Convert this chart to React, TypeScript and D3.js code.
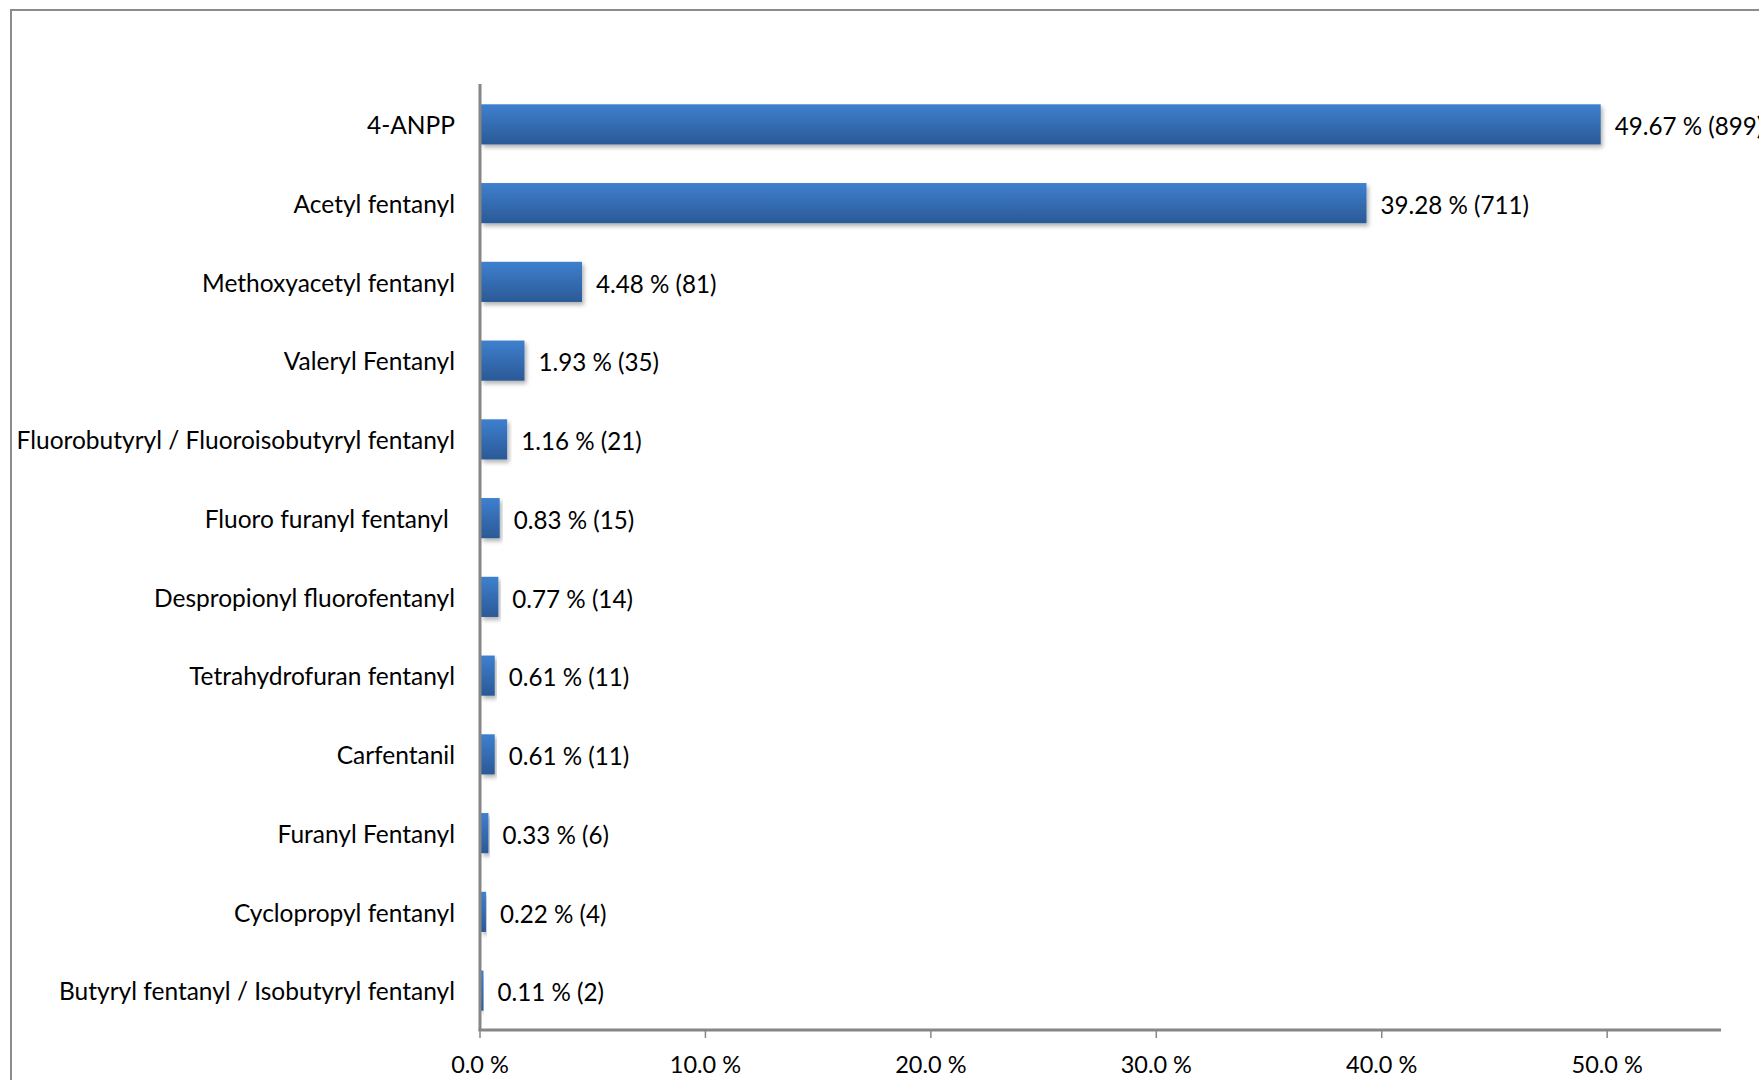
import { useEffect, useRef } from 'react';
import * as d3 from 'd3';

const categories = [
  '4-ANPP',
  'Acetyl fentanyl',
  'Methoxyacetyl fentanyl',
  'Valeryl Fentanyl',
  'Fluorobutyryl / Fluoroisobutyryl fentanyl',
  'Fluoro furanyl fentanyl ',
  'Despropionyl fluorofentanyl',
  'Tetrahydrofuran fentanyl',
  'Carfentanil',
  'Furanyl Fentanyl',
  'Cyclopropyl fentanyl',
  'Butyryl fentanyl / Isobutyryl fentanyl',
];
const percents = [49.67, 39.28, 4.48, 1.93, 1.16, 0.83, 0.77, 0.61, 0.61, 0.33, 0.22, 0.11];
const counts = [899, 711, 81, 35, 21, 15, 14, 11, 11, 6, 4, 2];
const xTicks = [0, 10, 20, 30, 40, 50];

const FONT = 'Lato, "Open Sans", sans-serif';

export default function App() {
  const ref = useRef<SVGSVGElement | null>(null);

  useEffect(() => {
    const width = 1759;
    const height = 1080;
    const svg = d3.select(ref.current);
    svg.selectAll('*').remove();

    const defs = svg.append('defs');
    const grad = defs
      .append('linearGradient')
      .attr('id', 'barGrad')
      .attr('x1', 0)
      .attr('y1', 0)
      .attr('x2', 0)
      .attr('y2', 1);
    grad.append('stop').attr('offset', '0%').attr('stop-color', '#3e80cf');
    grad.append('stop').attr('offset', '100%').attr('stop-color', '#2b5996');

    const shadow = defs
      .append('filter')
      .attr('id', 'barShadow')
      .attr('x', '-5%')
      .attr('y', '-20%')
      .attr('width', '120%')
      .attr('height', '160%');
    shadow
      .append('feDropShadow')
      .attr('dx', 2)
      .attr('dy', 3)
      .attr('stdDeviation', 2)
      .attr('flood-color', '#000')
      .attr('flood-opacity', 0.3);

    svg
      .append('rect')
      .attr('width', width)
      .attr('height', height)
      .attr('fill', '#fff');

    // outer frame
    svg
      .append('rect')
      .attr('x', 11)
      .attr('y', 10)
      .attr('width', width + 50)
      .attr('height', height + 50)
      .attr('fill', 'none')
      .attr('stroke', '#8c8c8c')
      .attr('stroke-width', 2);

    const x = d3.scaleLinear().domain([0, 55.05]).range([480, 1721]);
    const y = d3
      .scaleBand()
      .domain(categories)
      .range([85, 1030])
      .paddingInner(0.49)
      .paddingOuter(0.245);

    const g = svg.append('g');

    // bars
    g.selectAll('rect.bar')
      .data(percents)
      .enter()
      .append('rect')
      .attr('class', 'bar')
      .attr('x', x(0) + 1)
      .attr('y', (d, i) => y(categories[i])!)
      .attr('width', (d) => Math.max(1.5, x(d) - x(0)))
      .attr('height', y.bandwidth())
      .attr('fill', 'url(#barGrad)')
      .attr('filter', 'url(#barShadow)');

    // value labels (the 4-ANPP one runs past the right edge, as in the source)
    g.selectAll('text.val')
      .data(percents)
      .enter()
      .append('text')
      .attr('class', 'val')
      .attr('x', (d) => x(d) + 15)
      .attr('y', (d, i) => y(categories[i])! + y.bandwidth() / 2 + 2)
      .attr('dy', '0.36em')
      .style('font-family', FONT)
      .style('font-size', '24.2px')
      .style('fill', '#000')
      .text((d, i) => `${d.toFixed(2)} % (${counts[i]})`);

    // category labels
    g.selectAll('text.cat')
      .data(categories)
      .enter()
      .append('text')
      .attr('class', 'cat')
      .attr('x', 455)
      .attr('y', (d) => y(d)! + y.bandwidth() / 2 + 1)
      .attr('dy', '0.36em')
      .attr('text-anchor', 'end')
      .style('white-space', 'pre')
      .style('font-family', FONT)
      .style('font-size', '24.5px')
      .style('fill', '#000')
      .text((d) => d);

    // axes
    const axisColor = '#868686';
    g.append('line')
      .attr('x1', x(0))
      .attr('x2', x(0))
      .attr('y1', 84)
      .attr('y2', 1031)
      .attr('stroke', axisColor)
      .attr('stroke-width', 3);
    g.append('line')
      .attr('x1', x(0) - 1.5)
      .attr('x2', x(55.05))
      .attr('y1', 1030)
      .attr('y2', 1030)
      .attr('stroke', axisColor)
      .attr('stroke-width', 3);

    g.selectAll('line.tick')
      .data(xTicks)
      .enter()
      .append('line')
      .attr('class', 'tick')
      .attr('x1', (d) => x(d))
      .attr('x2', (d) => x(d))
      .attr('y1', 1030)
      .attr('y2', 1038)
      .attr('stroke', axisColor)
      .attr('stroke-width', 1.5);

    g.selectAll('text.tickLabel')
      .data(xTicks)
      .enter()
      .append('text')
      .attr('class', 'tickLabel')
      .attr('x', (d) => x(d))
      .attr('y', 1065)
      .attr('dy', '0.36em')
      .attr('text-anchor', 'middle')
      .style('font-family', FONT)
      .style('font-size', '23.5px')
      .style('fill', '#000')
      .text((d) => `${d.toFixed(1)} %`);
  }, []);

  return (
    <svg
      ref={ref}
      width={1759}
      height={1080}
      style={{ position: 'absolute', left: 0, top: 0, display: 'block' }}
    />
  );
}
